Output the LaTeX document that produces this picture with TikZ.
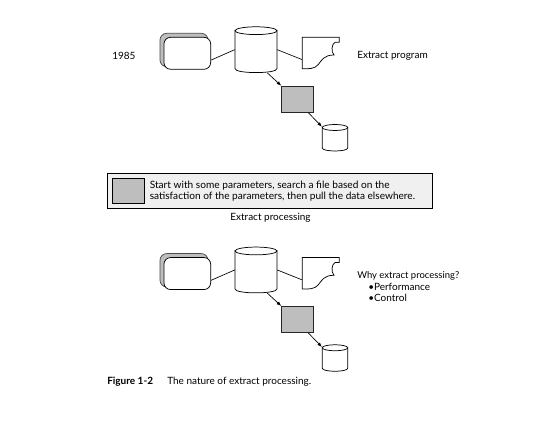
\documentclass[tikz,border=0pt]{standalone}
\usepackage{graphicx}
\usepackage{fontspec}
\setmainfont{Lato}
\usetikzlibrary{arrows.meta}
\definecolor{shade}{HTML}{BEBEBE}
\definecolor{panel}{HTML}{F0F0F0}
\tikzset{
  px/.style={x=0.75pt,y=-0.75pt},
  line/.style={draw=black,line width=0.55pt},
  link/.style={black,line width=0.5pt},
  arrowlink/.style={link,-{Latex[length=3.6pt,width=2.6pt]}},
  screenback/.style={draw=black!70,fill=shade,rounded corners=5pt,line width=0.55pt,inner sep=0pt,minimum width=36pt,minimum height=25pt},
  screenfront/.style={draw=black,fill=white,rounded corners=5pt,line width=0.55pt,inner sep=0pt,minimum width=35pt,minimum height=24pt},
  procbox/.style={draw=black!85,fill=shade,line width=0.7pt,inner sep=0pt,minimum width=23.5pt,minimum height=19.5pt},
  anchorbox/.style={inner sep=0pt,minimum width=28pt,minimum height=24pt},
  lab/.style={inner sep=0pt,anchor=west,font=\fontsize{7.5}{9}\selectfont},
}
% name, centre x, top-ellipse y, bottom-ellipse y, x radius, y radius
\newcommand{\canat}[6]{%
  \draw[line,fill=white] (#2-#5,#3) -- (#2-#5,#4)
     .. controls (#2-#5,#4+1.33*#6) and (#2+#5,#4+1.33*#6) .. (#2+#5,#4) -- (#2+#5,#3) -- cycle;
  \draw[line,fill=white] (#2,#3) ellipse [x radius=#5,y radius=#6];
  \node[inner sep=0pt,minimum width={1.5*#5},minimum height={0.75*(#4-#3+2*#6)}] (#1) at (#2,{(#3+#4)/2}) {};
}
\newcommand{\flowpart}{%
  \node[screenback] (back) at (184,50) {};
  \node[screenfront] (scr) at (187.3,53.3) {};
  \canat{db}{256}{30.7}{68.7}{21}{3.9}
  \node[anchorbox] (doc) at (320.8,53) {};
  \draw[line] (302.3,37.3) -- (339.3,37.3) -- (339.3,42.3) -- (335,42.3)
     .. controls (331.5,44) and (331,52) .. (334,55)
     .. controls (324,55) and (322,60) .. (318.3,64.5)
     .. controls (315,69) and (308,69) .. (302.3,68.7) -- cycle;
  \node[procbox] (proc) at (297.5,99.3) {};
  \canat{out}{335}{127.5}{148}{12.7}{3}
  \draw[link] (scr.-16) -- (db.west);
  \draw[link] (db.east) -- (doc.199);
  \draw[arrowlink] (db.-64) -- (proc.north west);
  \draw[arrowlink] (proc.-51) -- (out.140);
}
\begin{document}
\begin{tikzpicture}[px]
\useasboundingbox (0,0) rectangle (537,427);
\fill[white] (0,0) rectangle (537,427);
\begin{scope}[name prefix=a-]
  \flowpart
\end{scope}
\node[lab] (year) at (112,56) {1985};
\node[lab] (prog) at (357,56) {Extract program};

\node[draw=black,fill=panel,line width=0.75pt,inner sep=0pt,minimum width=243.5pt,minimum height=26pt] (panelbox) at (270.3,190.8) {};
\node[draw=black,fill=shade,line width=0.7pt,inner sep=0pt,minimum width=24pt,minimum height=19pt] (key) at (128.5,191) {};
\node[lab,align=left,font=\fontsize{7.6}{8.2}\selectfont] (desc) at (149.5,191.5) {Start with some parameters, search a file based on the\\\resizebox{199pt}{!}{\fontsize{7.6}{8.2}\selectfont satisfaction of the parameters, then pull the data elsewhere.}};
\node[inner sep=0pt,font=\fontsize{7.5}{9}\selectfont] (title) at (270.5,217.5) {Extract processing};

\begin{scope}[yshift=-165.2pt,name prefix=b-]
  \flowpart
\end{scope}
\node[lab,font=\fontsize{7.1}{9}\selectfont] (why) at (357,276) {Why extract processing?};
\node[lab] (perf) at (368,287) {•Performance};
\node[lab] (ctrl) at (368,297.5) {•Control};
\node[lab,font=\fontsize{7.5}{9}\selectfont\bfseries] (figno) at (107,382) {Figure 1-2};
\node[lab] (cap) at (167,382) {The nature of extract processing.};
\end{tikzpicture}
\end{document}
